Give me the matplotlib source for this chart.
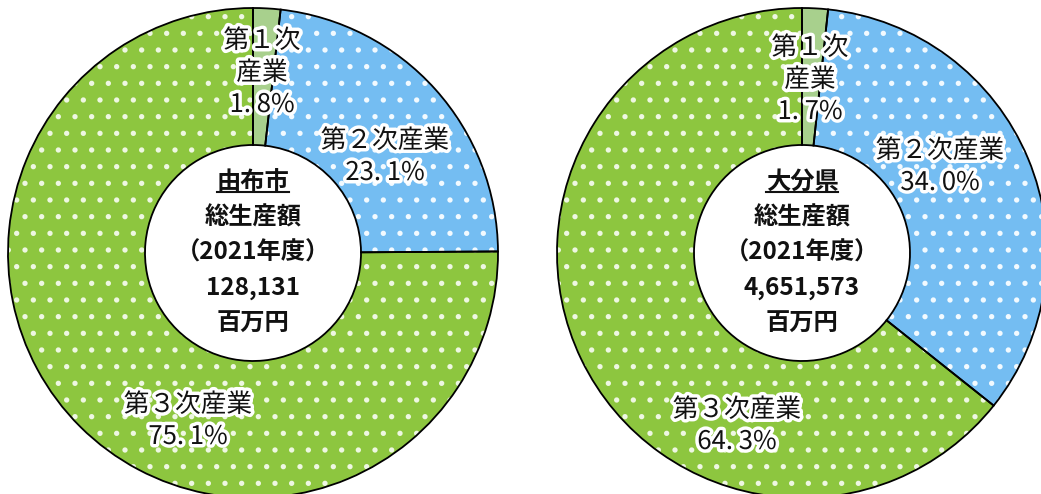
import matplotlib
matplotlib.use("Agg")
import matplotlib.pyplot as plt
import matplotlib.patheffects as pe

plt.rcParams['font.family'] = ['Noto Sans CJK JP', 'DejaVu Sans']
plt.rcParams['hatch.linewidth'] = 1.4

# -----------------------------
# Data
# -----------------------------
sectors = ["第１次\n産業", "第２次産業", "第３次産業"]
yufu_share = [1.8, 23.1, 75.1]
oita_share = [1.7, 34.0, 64.3]
pct_labels_yufu = ["1. 8%", "23. 1%", "75. 1%"]
pct_labels_oita = ["1. 7%", "34. 0%", "64. 3%"]
titles = ["由布市", "大分県"]
totals = ["128,131", "4,651,573"]

colors = ["#A8D08D", "#74BDF2", "#8DC63F"]
hatches = ["", ".", "."]
dot_colors = ["white", "#F2FAFF", "#EEF7E2"]

W, H = 1041, 494
R_OUT, R_IN = 245, 108

fig = plt.figure(figsize=(W / 100, H / 100), dpi=100)
ax = fig.add_axes([0, 0, 1, 1])

glow = [pe.withStroke(linewidth=5, foreground="white")]

charts = [
    dict(center=(253, 241), share=yufu_share, pct=pct_labels_yufu, title=titles[0], total=totals[0],
         offsets=[(9, 180), (132, 96), (-65, -168)]),
    dict(center=(802, 241), share=oita_share, pct=pct_labels_oita, title=titles[1], total=totals[1],
         offsets=[(8, 173), (138, 86), (-65, -173)]),
]

underline_jobs = []
for ch in charts:
    cx, cy = ch["center"]
    common = dict(startangle=90, counterclock=False, radius=R_OUT, center=(cx, cy), frame=True)
    # base fill
    ax.pie(ch["share"], colors=colors, wedgeprops=dict(width=R_OUT - R_IN, linewidth=0), **common)
    # white dot pattern
    wedges, _ = ax.pie(ch["share"], wedgeprops=dict(width=R_OUT - R_IN, linewidth=0,
                                                   facecolor="none", edgecolor="white"), **common)
    for w, h, dc in zip(wedges, hatches, dot_colors):
        w.set_hatch(h)
        w.set_facecolor("none")
        w.set_edgecolor(dc)
        w.set_linewidth(0)
    # black outlines
    ax.pie(ch["share"], wedgeprops=dict(width=R_OUT - R_IN, linewidth=1.3,
                                        facecolor="none", edgecolor="black"), **common)

    # sector labels
    for name, pct, (dx, dy) in zip(sectors, ch["pct"], ch["offsets"]):
        ax.text(cx + dx, cy + dy, name + "\n" + pct, ha="center", va="center", fontsize=18.5,
                linespacing=1.3, color="#111111", path_effects=glow)

    # center text
    lines = [ch["title"], "総生産額", "（2021年度）", ch["total"], "百万円"]
    step = 35.5
    for i, t in enumerate(lines):
        txt = ax.text(cx, cy + 2 * step - i * step, t, ha="center", va="center",
                      fontsize=17.5, fontweight="bold", color="#111111")
        if i == 0:
            underline_jobs.append(txt)

ax.set_xlim(0, W)
ax.set_ylim(0, H)
ax.set_aspect("equal")
ax.axis("off")

# underline the area names
fig.canvas.draw()
renderer = fig.canvas.get_renderer()
inv = ax.transData.inverted()
for txt in underline_jobs:
    bb = txt.get_window_extent(renderer)
    (x0, y0), (x1, y1) = inv.transform([(bb.x0, bb.y0), (bb.x1, bb.y1)])
    ax.plot([x0, x1], [y0 + 2, y0 + 2], color="#111111", linewidth=1.5)

fig.savefig("out.png", dpi=100)
